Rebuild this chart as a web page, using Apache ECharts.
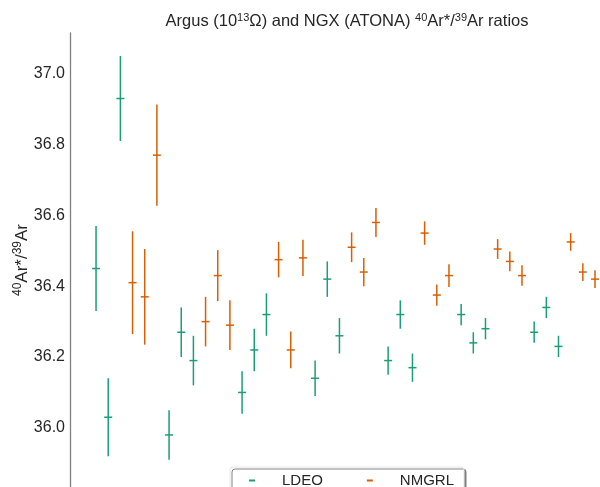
<!DOCTYPE html>
<html>
<head>
<meta charset="utf-8">
<script src="https://cdn.jsdelivr.net/npm/echarts@6/dist/echarts.min.js"></script>
<style>
  html, body { margin: 0; padding: 0; background: #fff; }
  #chart { width: 600px; height: 487px; }
</style>
</head>
<body>
<div id="chart"></div>
<script>
// Run position of each analysis along the sequence
const ldeoX   = [0, 1, 2, 6, 7, 8, 12, 13, 14, 18, 19, 20, 24, 25, 26, 30, 31, 32, 36, 37, 38];
const ldeoVal = [36.45, 36.03, 36.93, 35.98, 36.27, 36.19, 36.10, 36.22, 36.32, 36.14, 36.42, 36.26,
                 36.19, 36.32, 36.17, 36.32, 36.24, 36.28, 36.27, 36.34, 36.23];
const ldeoErr = [0.12, 0.11, 0.12, 0.07, 0.07, 0.07, 0.06, 0.06, 0.06, 0.05, 0.05, 0.05,
                 0.04, 0.04, 0.04, 0.03, 0.03, 0.03, 0.03, 0.03, 0.03];

const nmgrlX   = [3, 4, 5, 9, 10, 11, 15, 16, 17, 21, 22, 23, 27, 28, 29, 33, 34, 35, 39, 40, 41];
const nmgrlVal = [36.41, 36.37, 36.77, 36.30, 36.43, 36.29, 36.475, 36.22, 36.48, 36.51, 36.44, 36.58,
                  36.55, 36.375, 36.43, 36.505, 36.47, 36.43, 36.525, 36.44, 36.42];
const nmgrlErr = [0.145, 0.135, 0.143, 0.07, 0.072, 0.07, 0.05, 0.052, 0.051, 0.042, 0.04, 0.041,
                  0.033, 0.03, 0.032, 0.028, 0.028, 0.029, 0.025, 0.025, 0.025];

const yTicks = [36.0, 36.2, 36.4, 36.6, 36.8, 37.0];

const GREEN = '#1b9e77';
const ORANGE = '#d95f02';
const FONT = '"Liberation Sans", Arial, sans-serif';

function rows(xs, vals, errs) {
  return xs.map((x, i) => [x, vals[i], errs[i]]);
}

// Vertical error bar with a short horizontal mark at the value
function errorBar(color) {
  return function (params, api) {
    const x = api.value(0), v = api.value(1), e = api.value(2);
    const top = api.coord([x, v + e]);
    const bot = api.coord([x, v - e]);
    const mid = api.coord([x, v]);
    return {
      type: 'group',
      children: [
        { type: 'line', shape: { x1: mid[0], y1: top[1], x2: mid[0], y2: bot[1] },
          style: { stroke: color, lineWidth: 1.5 } },
        { type: 'line', shape: { x1: mid[0] - 4, y1: mid[1], x2: mid[0] + 4, y2: mid[1] },
          style: { stroke: color, lineWidth: 1.5 } }
      ]
    };
  };
}

const chart = echarts.init(document.getElementById('chart'), null, { renderer: 'canvas' });

const supStyle = { fontSize: 11, fontFamily: FONT, fontWeight: 'normal', color: '#262626', padding: [0, 0, 8, 0] };
const normStyle = { fontSize: 16.5, fontFamily: FONT, fontWeight: 'normal', color: '#262626' };

chart.setOption({
  animation: false,
  backgroundColor: '#ffffff',
  title: {
    text: '{n|Argus (10}{s|13}{n|Ω) and NGX (ATONA) }{s|40}{n|Ar*/}{s|39}{n|Ar ratios}',
    left: 342,
    top: 7,
    textAlign: 'center',
    textStyle: { fontWeight: 'normal', rich: { n: normStyle, s: supStyle } }
  },
  grid: { left: 70, right: 0, top: 33, bottom: 0, containLabel: false, outerBoundsMode: 'none' },
  legend: {
    left: 230,
    top: 467,
    padding: [6, 10, 8, 19],
    itemGap: 44,
    itemWidth: 6,
    itemHeight: 2,
    icon: 'rect',
    borderColor: '#e6e6e6',
    borderWidth: 1,
    borderRadius: 3,
    backgroundColor: '#ffffff',
    shadowColor: 'rgba(120,120,120,0.9)',
    shadowOffsetX: 2,
    shadowOffsetY: 2,
    shadowBlur: 0,
    textStyle: { fontSize: 15, fontFamily: FONT, color: '#262626', padding: [0, 0, 0, 22] },
    data: ['LDEO', 'NMGRL']
  },
  xAxis: {
    type: 'value',
    min: -2.14,
    max: 41.41,
    axisLine: { show: false },
    axisTick: { show: false },
    axisLabel: { show: false },
    splitLine: { show: false }
  },
  yAxis: {
    type: 'value',
    min: 35.833,
    max: 37.115,
    name: '{s|40}{n|Ar*/}{s|39}{n|Ar}',
    nameLocation: 'middle',
    nameRotate: 90,
    nameGap: 38,
    nameMoveOverlap: false,
    nameTextStyle: { rich: { n: { fontSize: 17, fontFamily: FONT, color: '#262626' },
                             s: { fontSize: 12, fontFamily: FONT, color: '#262626', padding: [0, 0, 8, 0] } } },
    axisLine: { show: true, onZero: false, lineStyle: { color: '#808080', width: 1.3 } },
    axisTick: { show: false },
    splitLine: { show: false },
    axisLabel: {
      fontSize: 16,
      fontFamily: FONT,
      color: '#262626',
      margin: 5,
      customValues: yTicks,
      formatter: v => v.toFixed(1)
    }
  },
  series: [
    {
      name: 'LDEO',
      type: 'custom',
      itemStyle: { color: GREEN },
      renderItem: errorBar(GREEN),
      encode: { x: 0, y: 1 },
      data: rows(ldeoX, ldeoVal, ldeoErr)
    },
    {
      name: 'NMGRL',
      type: 'custom',
      itemStyle: { color: ORANGE },
      renderItem: errorBar(ORANGE),
      encode: { x: 0, y: 1 },
      data: rows(nmgrlX, nmgrlVal, nmgrlErr)
    }
  ]
});
</script>
</body>
</html>
